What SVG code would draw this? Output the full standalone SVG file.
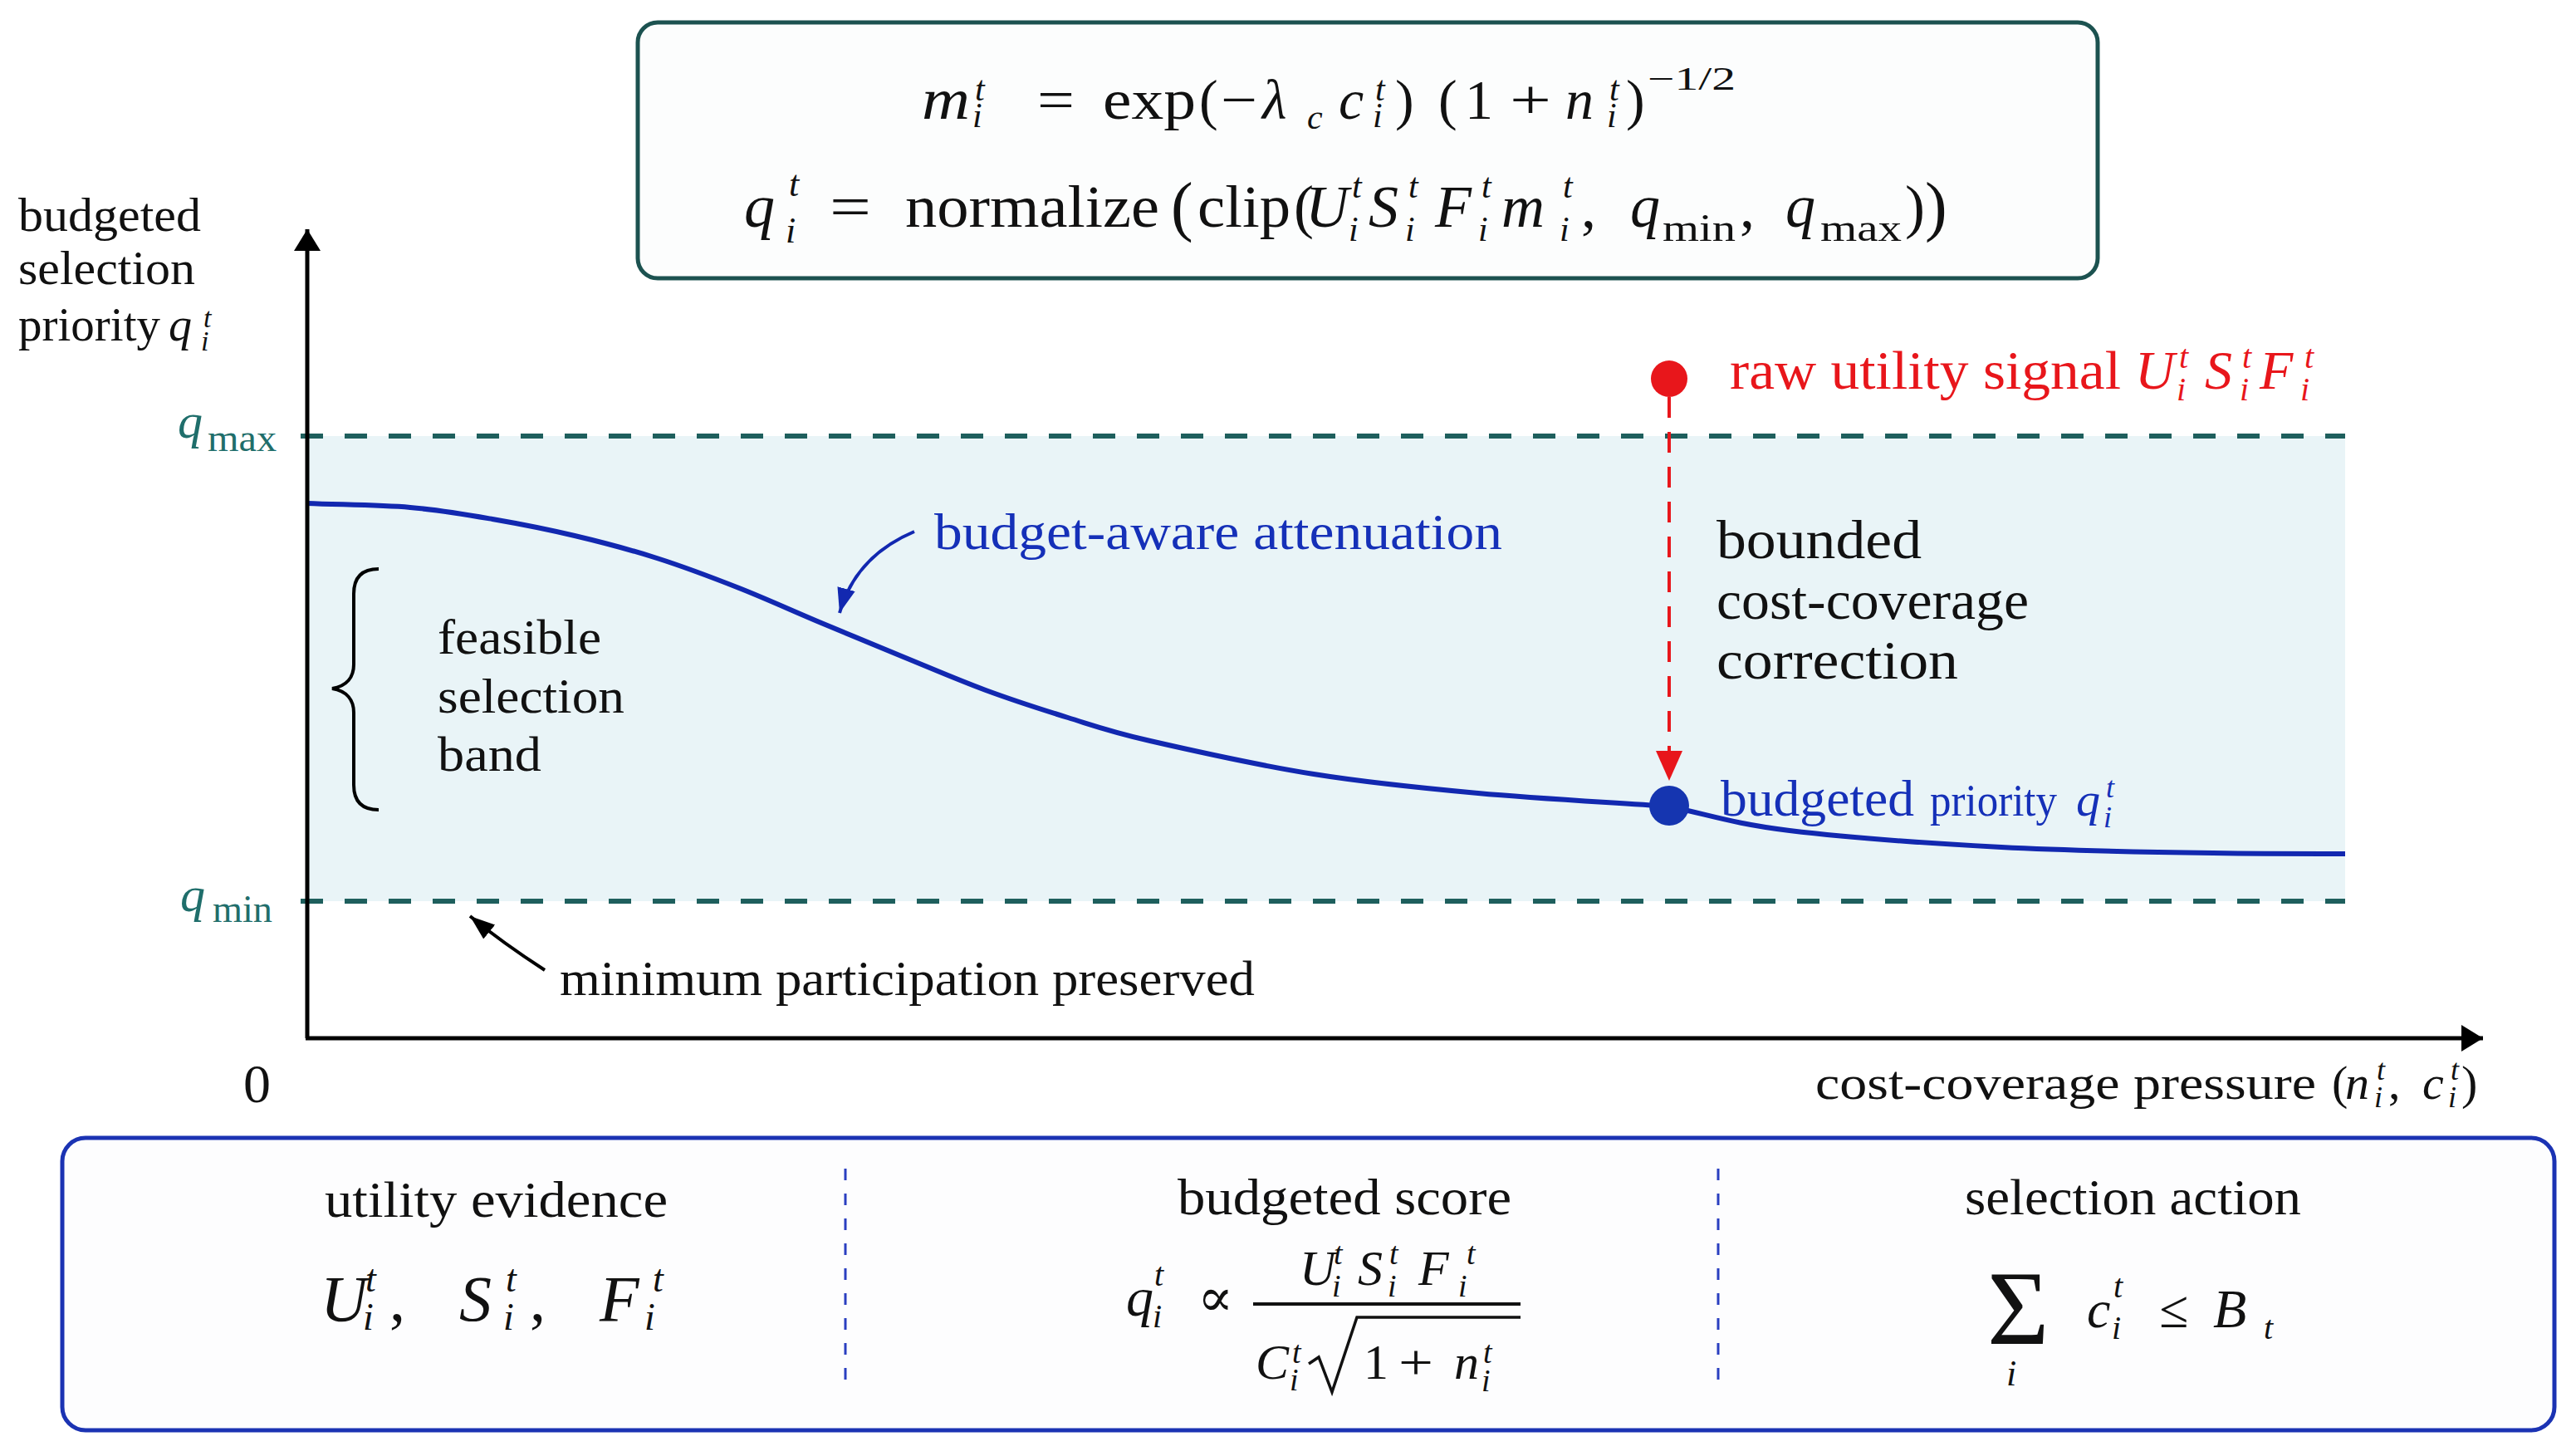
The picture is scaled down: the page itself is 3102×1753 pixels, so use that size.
<svg xmlns="http://www.w3.org/2000/svg" width="3102" height="1753" viewBox="0 0 3102 1753">
<style>
.s{font-family:"Liberation Serif","DejaVu Serif",serif;fill:#111}
.i{font-style:italic}
.blue{fill:#1530b8}
.red{fill:#e8161b}
.teal{fill:#1f6e6b}
.dash{stroke:#1e5f5d;stroke-width:6;stroke-dasharray:27 26;fill:none}
.div{stroke:#2a3fc0;stroke-width:3;stroke-dasharray:14 16;fill:none}
</style>
<defs>
<marker id="axhead" markerUnits="userSpaceOnUse" markerWidth="28" markerHeight="32" refX="26" refY="16" orient="auto"><path d="M0,0 L26,16 L0,32 z" fill="#000"/></marker>
<marker id="redhead" markerUnits="userSpaceOnUse" markerWidth="38" markerHeight="34" refX="36" refY="16" orient="auto"><path d="M0,0 L36,16 L0,32 z" fill="#e8161b"/></marker>
<marker id="bluehead" markerUnits="userSpaceOnUse" markerWidth="32" markerHeight="24" refX="30" refY="11" orient="auto"><path d="M0,0 L30,11 L0,22 z" fill="#1228b0"/></marker>
<marker id="blackhead" markerUnits="userSpaceOnUse" markerWidth="32" markerHeight="24" refX="30" refY="11" orient="auto"><path d="M0,0 L30,11 L0,22 z" fill="#000"/></marker>
</defs>
<rect width="3102" height="1753" fill="#ffffff"/>

<g id="band">
<rect x="372" y="525" width="2452" height="560" fill="#e9f4f7"/>
<line class="dash" x1="362" y1="525" x2="2824" y2="525"/>
<line class="dash" x1="362" y1="1085" x2="2824" y2="1085"/>
<text class="s i teal" x="214" y="527" font-size="60">q</text>
<text class="s teal" x="250" y="543" font-size="46" textLength="83" lengthAdjust="spacingAndGlyphs">max</text>
<text class="s i teal" x="217" y="1097" font-size="60">q</text>
<text class="s teal" x="256" y="1110" font-size="46" textLength="72" lengthAdjust="spacingAndGlyphs">min</text>
</g>

<g id="formula-box">
<rect x="768" y="27" width="1758" height="308" rx="24" fill="#fcfdfd" stroke="#1c5250" stroke-width="5"/>
<text class="s i" x="1110" y="143" font-size="70" textLength="58" lengthAdjust="spacingAndGlyphs">m</text>
<text class="s i" x="1174" y="121" font-size="42">t</text>
<text class="s i" x="1171" y="153" font-size="42">i</text>
<text class="s" x="1249" y="143" font-size="68" textLength="45" lengthAdjust="spacingAndGlyphs">=</text>
<text class="s" x="1328" y="143" font-size="68" textLength="112" lengthAdjust="spacingAndGlyphs">exp</text>
<text class="s" x="1444" y="143" font-size="68">(</text>
<text class="s" x="1470" y="143" font-size="68" textLength="44" lengthAdjust="spacingAndGlyphs">−</text>
<text class="s i" x="1520" y="143" font-size="68">λ</text>
<text class="s i" x="1574" y="155" font-size="42">c</text>
<text class="s i" x="1612" y="143" font-size="68">c</text>
<text class="s i" x="1656" y="121" font-size="42">t</text>
<text class="s i" x="1653" y="153" font-size="42">i</text>
<text class="s" x="1680" y="143" font-size="68">)</text>
<text class="s" x="1732" y="143" font-size="68">(</text>
<text class="s" x="1764" y="143" font-size="68">1</text>
<text class="s" x="1818" y="143" font-size="68" textLength="50" lengthAdjust="spacingAndGlyphs">+</text>
<text class="s i" x="1885" y="143" font-size="68">n</text>
<text class="s i" x="1938" y="121" font-size="42">t</text>
<text class="s i" x="1935" y="153" font-size="42">i</text>
<text class="s" x="1958" y="143" font-size="68">)</text>
<text class="s" x="1984" y="108" font-size="40" textLength="106" lengthAdjust="spacingAndGlyphs">−1/2</text>

<text class="s i" x="896" y="273" font-size="74">q</text>
<text class="s i" x="950" y="236" font-size="44">t</text>
<text class="s i" x="946" y="292" font-size="44">i</text>
<text class="s" x="999" y="273" font-size="72" textLength="50" lengthAdjust="spacingAndGlyphs">=</text>
<text class="s" x="1090" y="273" font-size="72" textLength="306" lengthAdjust="spacingAndGlyphs">normalize</text>
<text class="s" x="1410" y="275" font-size="80">(</text>
<text class="s" x="1442" y="273" font-size="72" textLength="112" lengthAdjust="spacingAndGlyphs">clip</text>
<text class="s" x="1558" y="273" font-size="72">(</text>
<text class="s i" x="1572" y="273" font-size="72">U</text>
<text class="s i" x="1628" y="238" font-size="42">t</text>
<text class="s i" x="1624" y="290" font-size="42">i</text>
<text class="s i" x="1648" y="273" font-size="72">S</text>
<text class="s i" x="1696" y="238" font-size="42">t</text>
<text class="s i" x="1692" y="290" font-size="42">i</text>
<text class="s i" x="1728" y="273" font-size="72">F</text>
<text class="s i" x="1784" y="238" font-size="42">t</text>
<text class="s i" x="1780" y="290" font-size="42">i</text>
<text class="s i" x="1808" y="273" font-size="72">m</text>
<text class="s i" x="1882" y="238" font-size="42">t</text>
<text class="s i" x="1878" y="290" font-size="42">i</text>
<text class="s" x="1904" y="273" font-size="72">,</text>
<text class="s i" x="1963" y="273" font-size="72">q</text>
<text class="s" x="2002" y="290" font-size="46" textLength="88" lengthAdjust="spacingAndGlyphs">min</text>
<text class="s" x="2095" y="273" font-size="72">,</text>
<text class="s i" x="2150" y="273" font-size="72">q</text>
<text class="s" x="2192" y="290" font-size="46" textLength="98" lengthAdjust="spacingAndGlyphs">max</text>
<text class="s" x="2294" y="273" font-size="72">)</text>
<text class="s" x="2318" y="275" font-size="80">)</text>
</g>

<g id="curve">
<path d="M370,606 C411.3,607.7 456.8,607.8 494,611 C531.2,614.2 560,619.3 593,625 C626,630.7 659,637.2 692,645 C725,652.8 758,661.5 791,672 C824,682.5 857,695 890,708 C923,721 956,736.2 989,750 C1022,763.8 1055,777.5 1088,791 C1121,804.5 1154,818.8 1187,831 C1220,843.2 1253,853.8 1286,864 C1319,874.2 1335.7,880.7 1385,892 C1434.3,903.3 1516.2,921.5 1582,932 C1647.8,942.5 1708.7,948.5 1780,955 C1851.3,961.5 1933.3,965.7 2010,971 C2058,981 2088,992 2155,1000 C2222,1008 2325,1015.5 2410,1020 C2495,1024.5 2596,1026 2665,1027 C2734,1028 2771,1028 2824,1028" fill="none" stroke="#1228b0" stroke-width="6"/>
</g>

<g id="axes">
<line x1="370" y1="1250" x2="370" y2="276" stroke="#000" stroke-width="5" marker-end="url(#axhead)"/>
<line x1="368" y1="1250" x2="2990" y2="1250" stroke="#000" stroke-width="5" marker-end="url(#axhead)"/>
<text class="s" x="293" y="1327" font-size="66">0</text>
<text class="s" x="22" y="278" font-size="56" textLength="220" lengthAdjust="spacingAndGlyphs">budgeted</text>
<text class="s" x="22" y="342" font-size="56" textLength="213" lengthAdjust="spacingAndGlyphs">selection</text>
<text class="s" x="22" y="410" font-size="56" textLength="171" lengthAdjust="spacingAndGlyphs">priority</text>
<text class="s i" x="203" y="410" font-size="56">q</text>
<text class="s i" x="245" y="394" font-size="34">t</text>
<text class="s i" x="242" y="422" font-size="34">i</text>
<text class="s" x="2186" y="1323" font-size="58" textLength="603" lengthAdjust="spacingAndGlyphs">cost-coverage pressure</text>
<text class="s" x="2808" y="1323" font-size="58">(</text>
<text class="s i" x="2824" y="1323" font-size="58">n</text>
<text class="s i" x="2862" y="1300" font-size="36">t</text>
<text class="s i" x="2859" y="1333" font-size="36">i</text>
<text class="s" x="2876" y="1323" font-size="58">,</text>
<text class="s i" x="2917" y="1323" font-size="58">c</text>
<text class="s i" x="2951" y="1300" font-size="36">t</text>
<text class="s i" x="2948" y="1333" font-size="36">i</text>
<text class="s" x="2964" y="1323" font-size="58">)</text>
</g>

<g id="feasible-band-label">
<path d="M456,685 C436,685 426,695 426,715 L426,800 C426,815 418,826 400,829 C418,832 426,843 426,858 L426,945 C426,965 436,975 456,975" fill="none" stroke="#000" stroke-width="4"/>
<text class="s" x="527" y="787" font-size="60" textLength="197" lengthAdjust="spacingAndGlyphs">feasible</text>
<text class="s" x="527" y="858" font-size="60" textLength="225" lengthAdjust="spacingAndGlyphs">selection</text>
<text class="s" x="527" y="928" font-size="60" textLength="125" lengthAdjust="spacingAndGlyphs">band</text>
</g>

<g id="attenuation-label">
<text class="s blue" x="1125" y="661" font-size="62" textLength="684" lengthAdjust="spacingAndGlyphs">budget-aware attenuation</text>
</g>

<g id="minimum-label">
<text class="s" x="674" y="1198" font-size="60" textLength="837" lengthAdjust="spacingAndGlyphs">minimum participation preserved</text>
</g>

<g id="raw-signal">
<circle cx="2010" cy="456" r="22" fill="#e8161b"/>
<text class="s red" x="2083" y="468" font-size="66" textLength="471" lengthAdjust="spacingAndGlyphs">raw utility signal</text>
<text class="s i red" x="2571" y="468" font-size="66">U</text>
<text class="s i red" x="2624" y="443" font-size="40">t</text>
<text class="s i red" x="2621" y="482" font-size="40">i</text>
<text class="s i red" x="2655" y="468" font-size="66">S</text>
<text class="s i red" x="2700" y="443" font-size="40">t</text>
<text class="s i red" x="2697" y="482" font-size="40">i</text>
<text class="s i red" x="2721" y="468" font-size="66">F</text>
<text class="s i red" x="2775" y="443" font-size="40">t</text>
<text class="s i red" x="2770" y="482" font-size="40">i</text>
</g>

<g id="correction-label">
<text class="s" x="2067" y="672" font-size="66" textLength="247" lengthAdjust="spacingAndGlyphs">bounded</text>
<text class="s" x="2067" y="745" font-size="66" textLength="376" lengthAdjust="spacingAndGlyphs">cost-coverage</text>
<text class="s" x="2067" y="817" font-size="66" textLength="291" lengthAdjust="spacingAndGlyphs">correction</text>
</g>

<g id="budgeted-point">
<circle cx="2010" cy="970" r="24" fill="#1535b0"/>
<text class="s blue" x="2072" y="982" font-size="62" textLength="233" lengthAdjust="spacingAndGlyphs">budgeted</text>
<text class="s blue" x="2324" y="982" font-size="54" textLength="153" lengthAdjust="spacingAndGlyphs">priority</text>
<text class="s i blue" x="2500" y="982" font-size="58">q</text>
<text class="s i blue" x="2536" y="960" font-size="36">t</text>
<text class="s i blue" x="2533" y="996" font-size="36">i</text>
</g>

<g id="connectors">
<line x1="2010" y1="478" x2="2010" y2="940" stroke="#e8161b" stroke-width="4" stroke-dasharray="25 17" marker-end="url(#redhead)"/>
<path d="M1101,640 Q1030,670 1011,738" fill="none" stroke="#1228b0" stroke-width="4" marker-end="url(#bluehead)"/>
<path d="M656,1168 Q605,1135 566,1103" fill="none" stroke="#000" stroke-width="4" marker-end="url(#blackhead)"/>
</g>

<g id="summary-panel">
<rect x="75" y="1370" width="3001" height="352" rx="28" fill="#fdfdfe" stroke="#1b33b3" stroke-width="5"/>
<line class="div" x1="1018" y1="1407" x2="1018" y2="1672"/>
<line class="div" x1="2069" y1="1407" x2="2069" y2="1672"/>
<g id="col-utility">
<text class="s" x="391" y="1465" font-size="62" textLength="413" lengthAdjust="spacingAndGlyphs">utility evidence</text>
<text class="s i" x="386" y="1590" font-size="78">U</text>
<text class="s i" x="440" y="1555" font-size="46">t</text>
<text class="s i" x="437" y="1601" font-size="46">i</text>
<text class="s" x="469" y="1590" font-size="76">,</text>
<text class="s i" x="553" y="1590" font-size="78">S</text>
<text class="s i" x="609" y="1555" font-size="46">t</text>
<text class="s i" x="606" y="1601" font-size="46">i</text>
<text class="s" x="638" y="1590" font-size="76">,</text>
<text class="s i" x="722" y="1590" font-size="78">F</text>
<text class="s i" x="786" y="1555" font-size="46">t</text>
<text class="s i" x="776" y="1601" font-size="46">i</text>
</g>
<g id="col-score">
<text class="s" x="1418" y="1462" font-size="62" textLength="402" lengthAdjust="spacingAndGlyphs">budgeted score</text>
<text class="s i" x="1356" y="1584" font-size="66">q</text>
<text class="s i" x="1390" y="1548" font-size="40">t</text>
<text class="s i" x="1388" y="1598" font-size="40">i</text>
<text class="s" x="1442" y="1584" font-size="64">∝</text>
<line x1="1509" y1="1570" x2="1831" y2="1570" stroke="#111" stroke-width="4"/>
<text class="s i" x="1565" y="1547" font-size="60">U</text>
<text class="s i" x="1606" y="1522" font-size="38">t</text>
<text class="s i" x="1604" y="1561" font-size="38">i</text>
<text class="s i" x="1635" y="1547" font-size="60">S</text>
<text class="s i" x="1673" y="1522" font-size="38">t</text>
<text class="s i" x="1671" y="1561" font-size="38">i</text>
<text class="s i" x="1708" y="1547" font-size="60">F</text>
<text class="s i" x="1766" y="1522" font-size="38">t</text>
<text class="s i" x="1756" y="1561" font-size="38">i</text>
<text class="s i" x="1512" y="1660" font-size="60">C</text>
<text class="s i" x="1556" y="1641" font-size="38">t</text>
<text class="s i" x="1553" y="1674" font-size="38">i</text>
<path d="M1576,1642 L1588,1634 L1604,1676 L1634,1586 L1831,1586" fill="none" stroke="#111" stroke-width="3.5"/>
<text class="s" x="1642" y="1660" font-size="60">1</text>
<text class="s" x="1684" y="1660" font-size="60" textLength="42" lengthAdjust="spacingAndGlyphs">+</text>
<text class="s i" x="1751" y="1660" font-size="60">n</text>
<text class="s i" x="1786" y="1641" font-size="38">t</text>
<text class="s i" x="1784" y="1675" font-size="38">i</text>
</g>
<g id="col-action">
<text class="s" x="2366" y="1462" font-size="62" textLength="405" lengthAdjust="spacingAndGlyphs">selection action</text>
<text class="s" x="2393" y="1618" font-size="128">Σ</text>
<text class="s i" x="2416" y="1668" font-size="44">i</text>
<text class="s i" x="2513" y="1598" font-size="64">c</text>
<text class="s i" x="2545" y="1562" font-size="40">t</text>
<text class="s i" x="2543" y="1612" font-size="40">i</text>
<text class="s" x="2600" y="1598" font-size="64">≤</text>
<text class="s i" x="2665" y="1598" font-size="66">B</text>
<text class="s i" x="2726" y="1612" font-size="40">t</text>
</g>
</g>
</svg>
